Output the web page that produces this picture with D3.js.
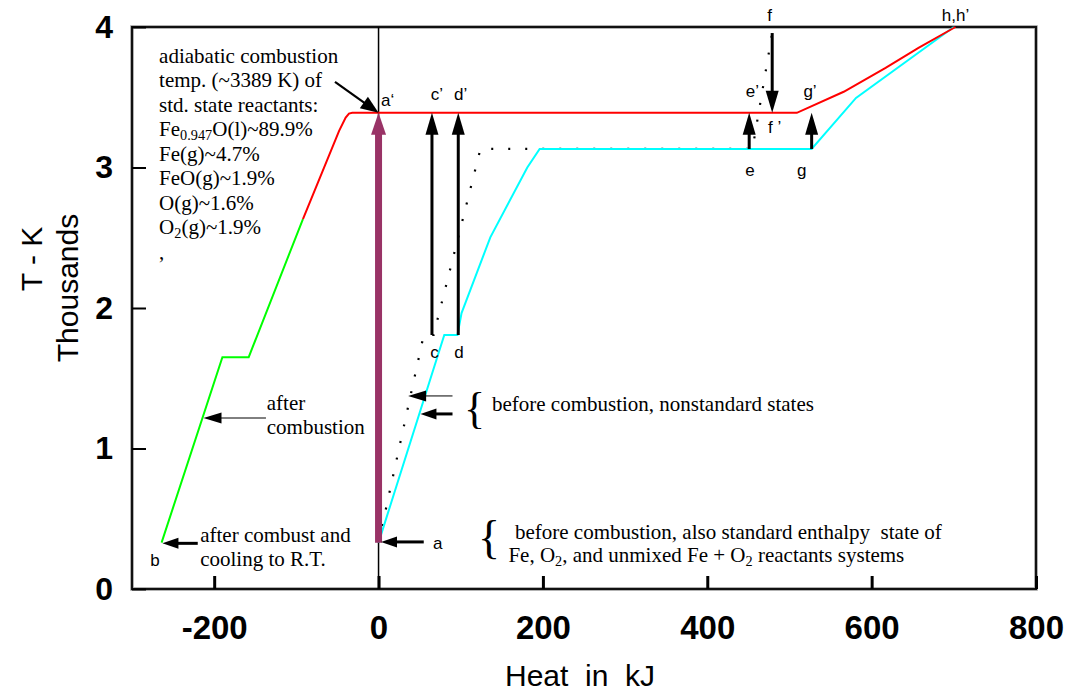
<!DOCTYPE html>
<html><head><meta charset="utf-8">
<script src="https://cdn.jsdelivr.net/npm/d3@7"></script>
<style>body{margin:0;background:#fff}svg{display:block}</style>
</head><body><svg id="c" width="1067" height="694"></svg>
<script>
// ---- data (Heat in kJ, Temperature in K) ----
const xTicks = [-200, 0, 200, 400, 600, 800];
const yTicks = [0, 1000, 2000, 3000, 4000];
const afterGreenX = [-264, -190, -158, -92];
const afterGreenT = [330, 1650, 1650, 2633];
const afterRedX = [-92, -48, -40, -36, -32, 509, 566, 617, 657, 702];
const afterRedT = [2633, 3261, 3355, 3384, 3389, 3389, 3539, 3709, 3851, 4000];
const beforeStdX = [0, 80, 96, 101, 136, 181, 196, 527, 581, 700];
const beforeStdT = [330, 1808, 1808, 1964, 2503, 3000, 3132, 3132, 3495, 4000];
const nonStdX = [0, 55, 67, 124, 455, 479];
const nonStdT = [330, 1808, 1808, 3132, 3132, 3957];
// arrows: [x1, T1, x2, T2, kind]
const arrowsData = [
  [0, 330, 0, 3389, "purple"],
  [65, 1808, 65, 3389, "bold"],
  [97, 1808, 97, 3389, "bold"],
  [451, 3132, 451, 3389, "bold"],
  [527, 3132, 527, 3389, "bold"],
  [479, 3957, 479, 3389, "bold"],
  [-53, 3609, 0, 3389, "mid"],
  [55, 335, 3, 335, "side"],
  [-220, 325, -263, 325, "side"],
  [-137, 1217, -213, 1217, "thin"],
  [90, 1374, 36, 1374, "thin"],
  [90, 1246, 51, 1246, "side"]
];
// point labels: [text, x, T, anchor]
const pointLabels = [
  ["a\u2018", 3, 3438, "start"], ["c\u2019", 71, 3480, "middle"], ["d\u2019", 100, 3480, "middle"],
  ["c", 68, 1644, "middle"], ["d", 98, 1644, "middle"], ["e", 452, 2940, "middle"],
  ["g", 515, 2940, "middle"], ["e\u2019", 455, 3502, "middle"], ["g\u2019", 525, 3502, "middle"],
  ["f", 476, 4043, "middle"], ["f \u2019", 482, 3246, "middle"], ["h,h\u2019", 702, 4043, "middle"],
  ["a", 72, 285, "middle"], ["b", -272, 164, "middle"]
];
const adiabaticLines = ["adiabatic combustion", "temp. (~3389 K) of", "std. state reactants:",
  "Fe|0.947|O(l)~89.9%", "Fe(g)~4.7%", "FeO(g)~1.9%", "O(g)~1.6%", "O|2|(g)~1.9%", ","];

const svg = d3.select("#c");
const x = d3.scaleLinear().domain([-300, 800]).range([132, 1036]);
const y = d3.scaleLinear().domain([0, 4000]).range([589, 27]);

// frame
svg.append("rect").attr("x", x(-300)).attr("y", y(4000)).attr("width", x(800) - x(-300))
  .attr("height", y(0) - y(4000)).attr("fill", "none").attr("stroke", "#999").attr("stroke-width", 3.5);
svg.append("rect").attr("x", x(-300)).attr("y", y(4000)).attr("width", x(800) - x(-300))
  .attr("height", y(0) - y(4000)).attr("fill", "none").attr("stroke", "#111").attr("stroke-width", 2);

// axes
const gx = svg.append("g").attr("transform", `translate(0,${y(0)})`)
  .call(d3.axisBottom(x).tickValues(xTicks).tickSizeInner(-13).tickSizeOuter(0).tickPadding(27)
    .tickFormat(d => String(d)));
gx.select(".domain").remove();
gx.selectAll(".tick line").attr("stroke", "#000").attr("stroke-width", 3);
gx.selectAll(".tick text").attr("font-family", "Liberation Sans, Arial, sans-serif")
  .attr("font-weight", "bold").attr("font-size", 33).attr("fill", "#000");

const gy = svg.append("g").attr("transform", `translate(${x(-300)},0)`)
  .call(d3.axisLeft(y).tickValues(yTicks).tickSizeInner(-14).tickSizeOuter(0).tickPadding(19)
    .tickFormat(d => d / 1000));
gy.select(".domain").remove();
gy.selectAll(".tick line").attr("stroke", "#000").attr("stroke-width", 2);
gy.selectAll(".tick text").attr("font-family", "Liberation Sans, Arial, sans-serif")
  .attr("font-weight", "bold").attr("font-size", 32).attr("fill", "#000");

// axis titles
svg.append("text").attr("x", 580).attr("y", 686).attr("text-anchor", "middle")
  .attr("font-family", "Liberation Sans, Arial, sans-serif").attr("font-size", 30)
  .style("white-space", "pre").text("Heat  in  kJ");
svg.append("text").attr("transform", "translate(42,259) rotate(-90)").attr("text-anchor", "middle")
  .attr("font-family", "Liberation Sans, Arial, sans-serif").attr("font-size", 30).text("T - K");
svg.append("text").attr("transform", "translate(78,288) rotate(-90)").attr("text-anchor", "middle")
  .attr("font-family", "Liberation Sans, Arial, sans-serif").attr("font-size", 30).text("Thousands");

// zero line
svg.append("line").attr("x1", x(0)).attr("x2", x(0)).attr("y1", y(0)).attr("y2", y(4000))
  .attr("stroke", "#000").attr("stroke-width", 1.5);

const line = d3.line().x(d => x(d[0])).y(d => y(d[1]));
const zip = (a, b) => a.map((v, i) => [v, b[i]]);

svg.append("path").attr("d", line(zip(nonStdX, nonStdT))).attr("fill", "none")
  .attr("stroke", "#000").attr("stroke-width", 2.2).attr("stroke-dasharray", "2,15");
svg.append("path").attr("d", line(zip(beforeStdX, beforeStdT))).attr("fill", "none")
  .attr("stroke", "#00ffff").attr("stroke-width", 2);
svg.append("path").attr("d", line(zip(afterGreenX, afterGreenT))).attr("fill", "none")
  .attr("stroke", "#00ff00").attr("stroke-width", 2);
svg.append("path").attr("d", line(zip(afterRedX, afterRedT))).attr("fill", "none")
  .attr("stroke", "#ff0000").attr("stroke-width", 2);

// arrows
const styles = {
  purple: {w: 7, hl: 22, hw: 15, c: "#993366"},
  bold: {w: 3, hl: 22, hw: 13, c: "#000"},
  mid: {w: 2.2, hl: 18, hw: 14, c: "#000"},
  side: {w: 3, hl: 16, hw: 11, c: "#000"},
  thin: {w: 1, hl: 18, hw: 11, c: "#000"}
};
arrowsData.forEach(([x1, t1, x2, t2, k]) => {
  const s = styles[k];
  const X1 = x(x1), Y1 = y(t1), X2 = x(x2), Y2 = y(t2);
  const L = Math.hypot(X2 - X1, Y2 - Y1), ux = (X2 - X1) / L, uy = (Y2 - Y1) / L;
  const bx = X2 - ux * s.hl, by = Y2 - uy * s.hl;
  svg.append("line").attr("x1", X1).attr("y1", Y1).attr("x2", bx + ux * 2).attr("y2", by + uy * 2)
    .attr("stroke", s.c).attr("stroke-width", s.w);
  svg.append("polygon").attr("fill", s.c).attr("points",
    [[X2, Y2], [bx - uy * s.hw / 2, by + ux * s.hw / 2], [bx + uy * s.hw / 2, by - ux * s.hw / 2]]
      .map(p => p.join(",")).join(" "));
});

// point labels
pointLabels.forEach(([t, px, pt, a]) => {
  svg.append("text").attr("x", x(px)).attr("y", y(pt)).attr("text-anchor", a)
    .attr("font-family", "Liberation Sans, Arial, sans-serif").attr("font-size", 17).text(t);
});

// serif annotations
const serif = "Liberation Serif, Times New Roman, serif";
function serifLine(str, px, pt, size) {
  const t = svg.append("text").attr("x", x(px)).attr("y", y(pt)).attr("font-family", serif)
    .attr("font-size", size || 21).style("white-space", "pre");
  const parts = str.split("|");
  parts.forEach((p, i) => {
    if (i % 2 === 1) t.append("tspan").attr("font-size", (size || 21) * 0.68).attr("dy", 4).text(p);
    else t.append("tspan").attr("dy", i > 0 ? -4 : 0).text(p);
  });
  return t;
}
adiabaticLines.forEach((s, i) => serifLine(s, -267, 3744 - i * 174.4));
serifLine("after", -136, 1274);
serifLine("combustion", -136, 1103);
serifLine("after combust and", -217, 335);
serifLine("cooling to R.T.", -217, 164);
serifLine("{", 104, 1181, 44);
serifLine("before combustion, nonstandard states", 138, 1267);
serifLine("{", 121, 256, 46);
serifLine("before combustion, also standard enthalpy  state of", 166, 356);
serifLine("Fe, O|2|, and unmixed Fe + O|2| reactants systems", 158, 192);
</script></body></html>
